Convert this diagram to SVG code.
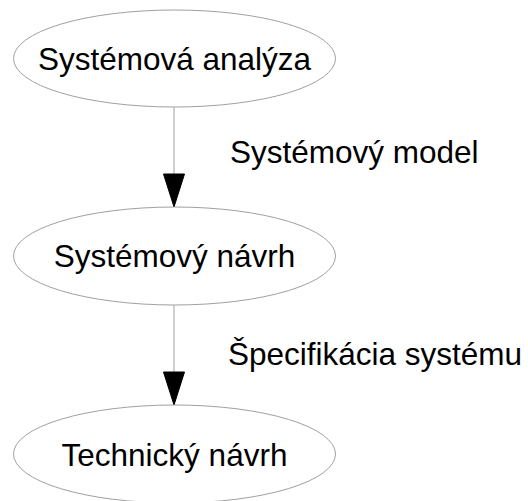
<svg xmlns="http://www.w3.org/2000/svg" width="528" height="501" viewBox="0 0 528 501">
<style>
.node ellipse{fill:#fff;stroke:#a0a0a0;stroke-width:1}
text{font-family:"Liberation Sans",Arial,sans-serif;font-size:31.5px;fill:#000}
.edge line{stroke:#a0a0a0;stroke-width:1}
.edge polygon{fill:#000;stroke:#000;stroke-width:1}
</style>
<rect width="528" height="501" fill="#fff"/>
<g id="edges" class="edge">
<line x1="174" y1="107" x2="174" y2="174"/>
<polygon points="163.5,174 184.5,174 174,207"/>
<text x="230" y="163">Systémový model</text>
<line x1="174" y1="305" x2="174" y2="372"/>
<polygon points="163.5,372 184.5,372 174,405"/>
<text x="228" y="365">Špecifikácia systému</text>
</g>
<g id="n1" class="node">
<ellipse cx="174.5" cy="58.5" rx="161" ry="48.5"/>
<text x="174.5" y="70" text-anchor="middle">Systémová analýza</text>
</g>
<g id="n2" class="node">
<ellipse cx="174.5" cy="256" rx="161" ry="49"/>
<text x="174.5" y="267" text-anchor="middle">Systémový návrh</text>
</g>
<g id="n3" class="node">
<ellipse cx="174.5" cy="454" rx="161" ry="49"/>
<text x="174.5" y="466" text-anchor="middle">Technický návrh</text>
</g>
</svg>
